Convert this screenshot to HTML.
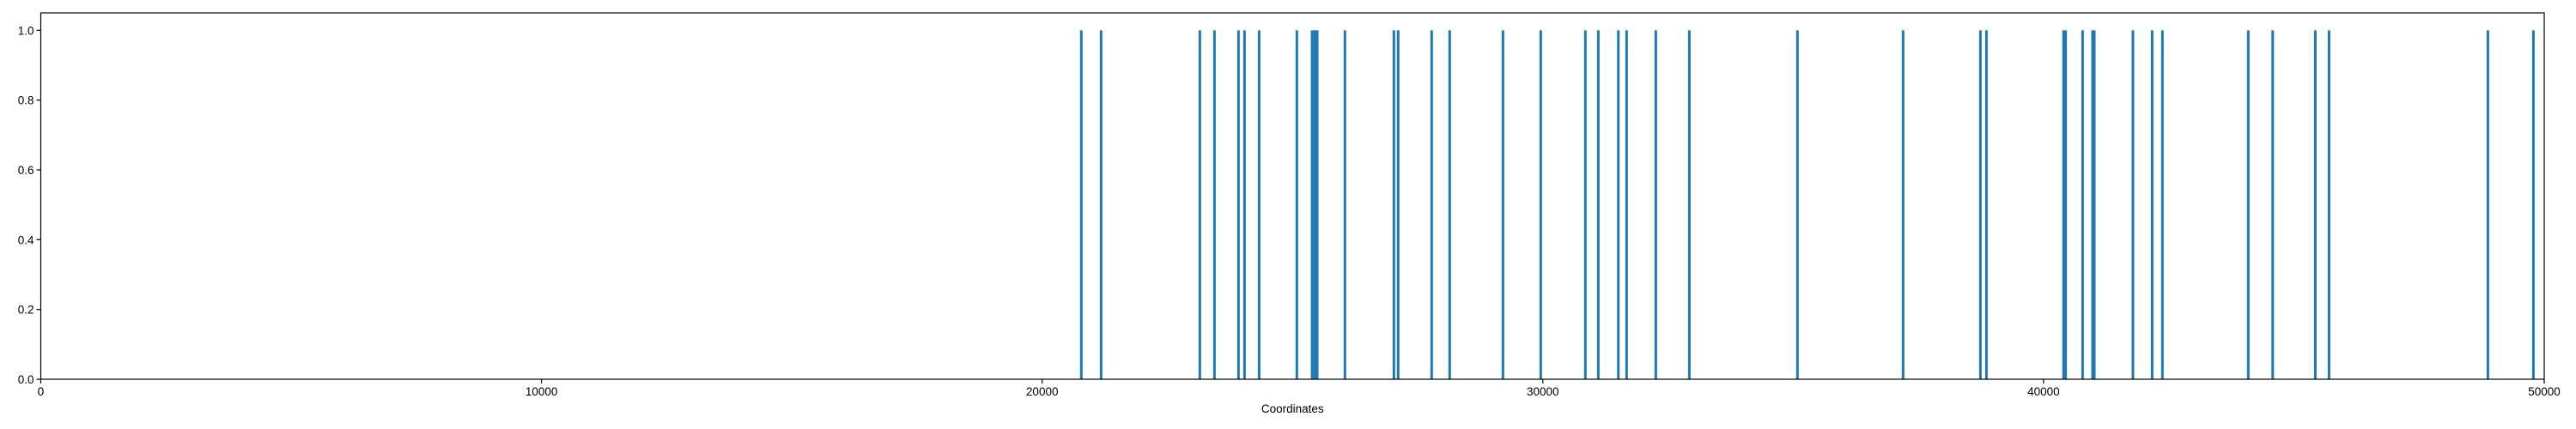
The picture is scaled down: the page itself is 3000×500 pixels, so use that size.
<!DOCTYPE html>
<html><head><meta charset="utf-8"><style>
html,body{margin:0;padding:0;background:#fff;}
svg{display:block;font-family:"Liberation Sans","DejaVu Sans",sans-serif;}
</style></head><body>
<svg id="chart" width="3000" height="500" viewBox="0 0 3000 500" xmlns="http://www.w3.org/2000/svg">
<rect x="0" y="0" width="3000" height="500" fill="#fff"/>
<g id="bars"></g>
<g id="axes"></g>
</svg>
<script>
const positions = [20782,21177,23149,23441,23921,24041,24333,25087,25391,25443,25494,26047,27025,27110,27779,28139,29203,29958,30849,31107,31508,31673,32256,32925,35085,37195,38739,38859,40400,40441,40780,40979,41014,41785,42169,42374,44089,44577,45428,45702,48875,49784];
const heights = positions.map(()=>1);
const xTicks = [0,10000,20000,30000,40000,50000];
const yTicks = [0.0,0.2,0.4,0.6,0.8,1.0];
const xMax = 50000, yMax = 1.05;

const L=47.5,R=2963,T=15,B=442;
const NS="http://www.w3.org/2000/svg";
const xs=v=>L+v/xMax*(R-L);
const ys=v=>B-v/yMax*(B-T);
const bars=document.getElementById('bars'), axes=document.getElementById('axes');
function mk(tag,attrs,parent){const e=document.createElementNS(NS,tag);for(const k in attrs)e.setAttribute(k,attrs[k]);parent.appendChild(e);return e;}
positions.forEach((p,i)=>{
  const r=mk('rect',{x:xs(p)-1.5,y:ys(heights[i]),width:3,height:B-ys(heights[i]),fill:'#1f77b4'},bars);
  
  
});
const frame=mk('rect',{x:L,y:T,width:R-L,height:B-T,fill:'none',stroke:'#000','stroke-width':1.2},axes);


xTicks.forEach(t=>{
  const x=xs(t);
  const tk=mk('line',{x1:x,x2:x,y1:B,y2:B+5,stroke:'#000','stroke-width':1.2},axes);
  
  
  const tx=mk('text',{x:x,y:B+19,'font-size':13.5,'text-anchor':'middle',fill:'#000'},axes);
  tx.textContent=String(t);
  
  
});
yTicks.forEach(t=>{
  const y=ys(t);
  const tk=mk('line',{x1:L-5,x2:L,y1:y,y2:y,stroke:'#000','stroke-width':1.2},axes);
  
  
  const tx=mk('text',{x:L-8,y:y+5,'font-size':13.5,'text-anchor':'end',fill:'#000'},axes);
  tx.textContent=t.toFixed(1);
  
  
});
const xl=mk('text',{x:(L+R)/2,y:481,'font-size':13.5,'text-anchor':'middle',fill:'#000'},axes);
xl.textContent='Coordinates';


</script>
</body></html>
